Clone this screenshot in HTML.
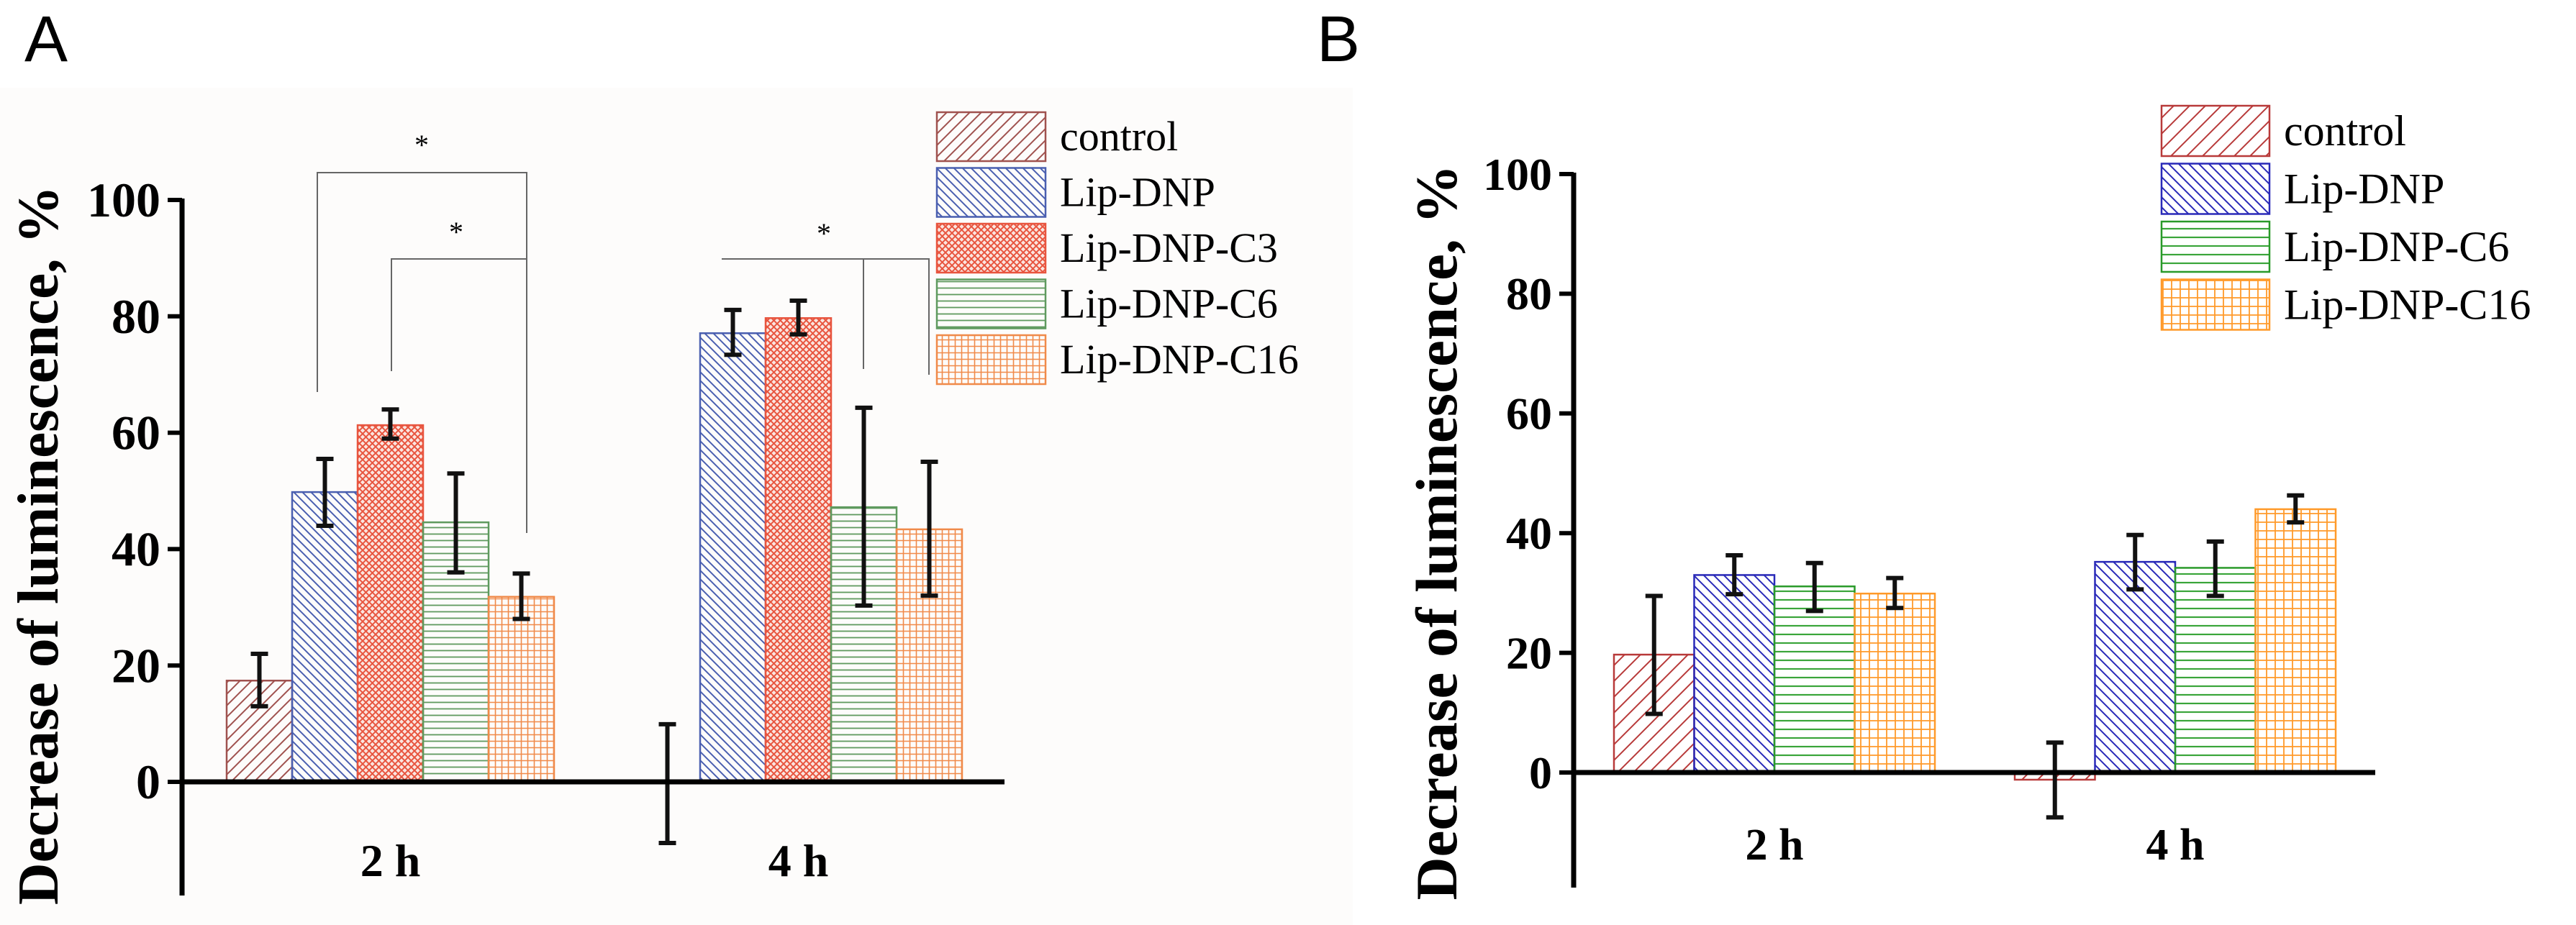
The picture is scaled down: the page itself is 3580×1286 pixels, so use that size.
<!DOCTYPE html>
<html><head><meta charset="utf-8"><style>
html,body{margin:0;padding:0;background:#fff}
svg{display:block}
text{font-family:"Liberation Serif",serif}
</style></head><body>
<svg id="fig" width="3580" height="1286" viewBox="0 0 3580 1286" xmlns="http://www.w3.org/2000/svg">
<defs>
<pattern id="pA0" width="16" height="16" patternUnits="userSpaceOnUse"><path d="M-4,4 L4,-4 M0,16 L16,0 M12,20 L20,12" stroke="#a0524f" stroke-width="2"/></pattern>
<pattern id="pA1" width="12" height="12" patternUnits="userSpaceOnUse"><path d="M-3,-3 L15,15 M-3,9 L3,15 M9,-3 L15,3" stroke="#4a5fb0" stroke-width="2"/></pattern>
<pattern id="pA2" width="9" height="9" patternUnits="userSpaceOnUse"><rect width="9" height="9" fill="#fbe5df"/><path d="M0,0 L9,9 M9,0 L0,9" stroke="#e8553f" stroke-width="2"/></pattern>
<pattern id="pA3" width="10" height="9" patternUnits="userSpaceOnUse"><path d="M0,4.5 L10,4.5" stroke="#5f9a5f" stroke-width="1.8"/></pattern>
<pattern id="pA4" width="9" height="9" patternUnits="userSpaceOnUse"><path d="M0,4.5 L9,4.5 M4.5,0 L4.5,9" stroke="#f08a4a" stroke-width="1.6"/></pattern>
<pattern id="pB0" width="22" height="22" patternUnits="userSpaceOnUse"><path d="M-5,5 L5,-5 M0,22 L22,0 M17,27 L27,17" stroke="#b83a3a" stroke-width="2"/></pattern>
<pattern id="pB1" width="14" height="14" patternUnits="userSpaceOnUse"><path d="M-3,-3 L17,17 M-3,11 L3,17 M11,-3 L17,3" stroke="#2a2ab8" stroke-width="2"/></pattern>
<pattern id="pB3" width="10" height="12" patternUnits="userSpaceOnUse"><path d="M0,6 L10,6" stroke="#3aa53a" stroke-width="2.2"/></pattern>
<pattern id="pB4" width="12" height="12" patternUnits="userSpaceOnUse"><path d="M0,6 L12,6 M6,0 L6,12" stroke="#ff9a2a" stroke-width="1.8"/></pattern>
</defs>
<rect x="0" y="122" width="1880" height="1164" fill="#fdfcfb"/>
<text x="34" y="85" font-size="90" style="font-family:'Liberation Sans',sans-serif">A</text>
<text x="1830" y="85" font-size="90" style="font-family:'Liberation Sans',sans-serif">B</text>
<g id="pa"></g>
<g id="pb"></g>
</svg>
<script>
// ---- Panel A data ----
const catsA = ["2 h", "4 h"];
const seriesA = ["control", "Lip-DNP", "Lip-DNP-C3", "Lip-DNP-C6", "Lip-DNP-C16"];
const valsA_2h = [17.4, 49.8, 61.3, 44.6, 31.8];
const errHiA_2h = [22, 55.5, 64, 53, 35.8];
const errLoA_2h = [13, 44, 59, 36, 28];
const valsA_4h = [0, 77.1, 79.7, 47.2, 43.4];
const errHiA_4h = [9.9, 81.1, 82.7, 64.3, 55];
const errLoA_4h = [-10.5, 73.4, 76.9, 30.3, 32];
const ticksA = [0, 20, 40, 60, 80, 100];
// ---- Panel B data ----
const catsB = ["2 h", "4 h"];
const seriesB = ["control", "Lip-DNP", "Lip-DNP-C6", "Lip-DNP-C16"];
const valsB_2h = [19.7, 33, 31.1, 29.9];
const errHiB_2h = [29.5, 36.3, 35, 32.5];
const errLoB_2h = [9.8, 29.8, 27, 27.5];
const valsB_4h = [-1.2, 35.2, 34.2, 44];
const errHiB_4h = [5, 39.7, 38.6, 46.3];
const errLoB_4h = [-7.5, 30.6, 29.5, 41.8];
const ticksB = [0, 20, 40, 60, 80, 100];

const NS = "http://www.w3.org/2000/svg";
function mk(tag, attrs, parent){const e=document.createElementNS(NS,tag);for(const k in attrs)e.setAttribute(k,attrs[k]);parent.appendChild(e);return e;}

function drawPanel(g, o){
  const y = v => o.y0 - (v/100)*(o.y0 - o.y100);
  o.groups.forEach((grp, gi) => {
    grp.vals.forEach((v, si) => {
      const x0 = o.groupX[gi] + si*o.bw;
      const top = Math.min(y(v), y(0)), h = Math.abs(y(v)-y(0));
      const r = mk("rect",{x:x0,y:top,width:o.bw,height:Math.max(h,0.5),fill:"url(#"+o.pat[si]+")",stroke:o.col[si],"stroke-width":2.5},g);
      
      
      const cx = x0 + o.bw/2;
      const eb = mk("path",{d:`M${cx},${y(grp.hi[si])} L${cx},${y(grp.lo[si])} M${cx-12},${y(grp.hi[si])} L${cx+12},${y(grp.hi[si])} M${cx-12},${y(grp.lo[si])} L${cx+12},${y(grp.lo[si])}`,stroke:"#111","stroke-width":6,fill:"none"},g);
      
      
    });
    const t = mk("text",{x:o.groupX[gi]+o.bw*grp.vals.length/2,y:o.catY,"font-size":o.catFs,"font-weight":"bold","text-anchor":"middle"},g);
    t.textContent = o.cats[gi];
    
    
  });
  const ya = mk("line",{x1:o.ax,y1:o.y100-2,x2:o.ax,y2:o.axBottom,stroke:"#000","stroke-width":7},g);
  
  
  const xa = mk("line",{x1:o.ax,y1:y(0),x2:o.axRight,y2:y(0),stroke:"#000","stroke-width":7},g);
  
  
  o.ticks.forEach(tv => {
    const tk = mk("line",{x1:o.ax-20,y1:y(tv),x2:o.ax,y2:y(tv),stroke:"#000","stroke-width":6},g);
    
    
    const tl = mk("text",{x:o.ax-30,y:y(tv)+o.tickFs*0.34,"font-size":o.tickFs,"font-weight":"bold","text-anchor":"end"},g);
    tl.textContent = tv;
    
    
  });
  const yt = mk("text",{x:0,y:0,"font-size":o.titleFs,"font-weight":"bold","text-anchor":"middle",textLength:o.titleLen,lengthAdjust:"spacingAndGlyphs",transform:`translate(${o.titleX},${o.titleY}) rotate(-90)`},g);
  yt.textContent = "Decrease of luminescence, %";
  
  
  o.series.forEach((s, si) => {
    const ly = o.legY + si*o.legStep;
    const lb = mk("rect",{x:o.legX,y:ly,width:o.legW,height:o.legH,fill:"url(#"+o.pat[si]+")",stroke:o.col[si],"stroke-width":2.5},g);
    
    
    const lt = mk("text",{x:o.legX+o.legW+20,y:ly+o.legH/2+o.legFs*0.33,"font-size":o.legFs},g);
    lt.textContent = s;
    
    
  });
}

drawPanel(document.getElementById('pa'), {
  y0:1087, y100:278, ax:253, axBottom:1245, axRight:1396,
  groups:[{vals:valsA_2h,hi:errHiA_2h,lo:errLoA_2h},{vals:valsA_4h,hi:errHiA_4h,lo:errLoA_4h}],
  groupX:[315, 882], bw:91, cats:catsA, series:seriesA, ticks:ticksA,
  pat:["pA0","pA1","pA2","pA3","pA4"], col:["#a0524f","#4a5fb0","#e8553f","#5f9a5f","#f08a4a"],
  catY:1218, catFs:64, tickFs:68, titleFs:80, titleLen:1000, titleX:80, titleY:758,
  legX:1302, legY:156, legStep:77.5, legW:151, legH:68, legFs:58
});
drawPanel(document.getElementById('pb'), {
  y0:1074, y100:242, ax:2187, axBottom:1234, axRight:3301,
  groups:[{vals:valsB_2h,hi:errHiB_2h,lo:errLoB_2h},{vals:valsB_4h,hi:errHiB_4h,lo:errLoB_4h}],
  groupX:[2243, 2800], bw:111.5, cats:catsB, series:seriesB, ticks:ticksB,
  pat:["pB0","pB1","pB3","pB4"], col:["#b83a3a","#2a2ab8","#2a9a2a","#ff9a2a"],
  catY:1195, catFs:62, tickFs:64, titleFs:82, titleLen:1023, titleX:2024, titleY:740,
  legX:3004, legY:147, legStep:80.5, legW:150, legH:70, legFs:60
});

const pa = document.getElementById('pa');
const brackets = [
  "M441,545 L441,240 L732,240 L732,741",
  "M544,516 L544,360 L732,360",
  "M1003,360 L1291,360 L1291,521 M1200,360 L1200,513"
];
brackets.forEach(d => {
  const p = mk("path",{d:d,stroke:"#666","stroke-width":2,fill:"none"},pa);
  
  
});
[[586,215],[634,336],[1145,338]].forEach(([x,yy]) => {
  const s = mk("text",{x:x,y:yy,"font-size":40,"text-anchor":"middle"},pa);
  s.textContent = "*";
  
  
});
</script>
</body></html>
